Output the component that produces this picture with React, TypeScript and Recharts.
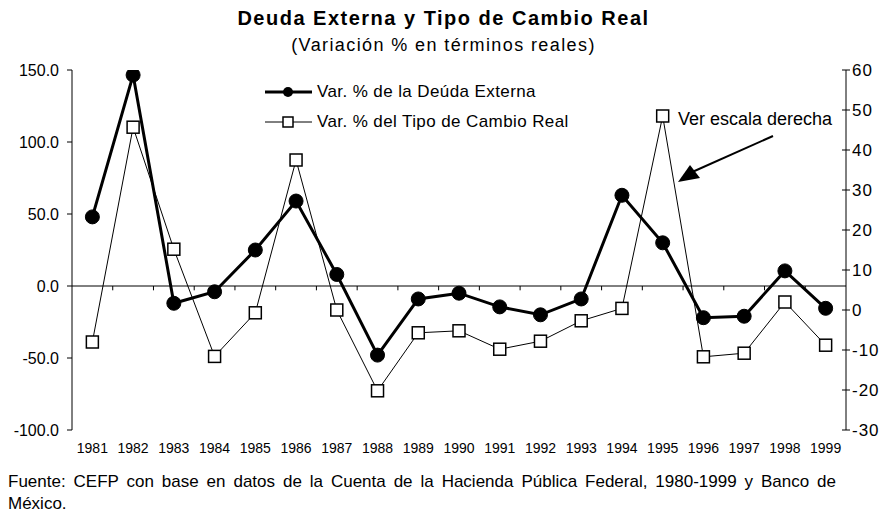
import React from 'react';
import { LineChart, Line, XAxis, YAxis, ReferenceLine } from 'recharts';

const years = ['1981', '1982', '1983', '1984', '1985', '1986', '1987', '1988', '1989', '1990', '1991', '1992', '1993', '1994', '1995', '1996', '1997', '1998', '1999'];
// left scale
const deudaExterna = [48, 146.5, -12, -4, 25, 59, 8, -48, -9, -5, -14.5, -20, -9, 63, 30, -22, -21, 10.5, -15.5];
// right scale
const tipoCambio = [-8, 45.7, 15.2, -11.6, -0.7, 37.5, 0, -20.2, -5.7, -5.2, -9.8, -7.8, -2.7, 0.4, 48.5, -11.7, -10.8, 2, -8.8];
const leftTicks = [-100, -50, 0, 50, 100, 150];
const rightTicks = [-30, -20, -10, 0, 10, 20, 30, 40, 50, 60];

const data = years.map((year, i) => ({
  x: i + 1,
  year,
  deuda: deudaExterna[i],
  tipo: tipoCambio[i],
}));
const boundaries = years.slice(1).map((_, i) => i + 1.5);

const font = '"Liberation Sans", Arial, sans-serif';

const SquareDot = (props: any) => {
  const { cx, cy, index } = props;
  return <rect key={index} x={cx - 6} y={cy - 6} width={12} height={12} fill="#fff" stroke="#000" strokeWidth={1.5} />;
};

const RightTick = (props: any) => {
  const { x, y, payload } = props;
  const ax = x - 6;
  return (
    <g>
      <line x1={ax - 4} x2={ax + 4} y1={y} y2={y} stroke="#000" strokeWidth={1} />
      <text x={x} y={y} dy="0.36em" textAnchor="start" fontSize={17} letterSpacing={1} fontFamily={font} fill="#000">
        {payload.value}
      </text>
    </g>
  );
};

const LegendBox = () => (
  <div style={{ position: 'absolute', left: 265, top: 80, fontFamily: font, fontSize: 17, letterSpacing: 0.4 }}>
    <div style={{ display: 'flex', alignItems: 'center', height: 24 }}>
      <svg width={47} height={20}>
        <line x1={0} x2={47} y1={10} y2={10} stroke="#000" strokeWidth={3} />
        <circle cx={23} cy={10} r={5} fill="#000" />
      </svg>
      <span style={{ marginLeft: 5 }}>Var. % de la Deúda Externa</span>
    </div>
    <div style={{ display: 'flex', alignItems: 'center', height: 24, marginTop: 6 }}>
      <svg width={47} height={20}>
        <line x1={0} x2={47} y1={10} y2={10} stroke="#000" strokeWidth={1} />
        <rect x={18} y={5} width={10} height={10} fill="#fff" stroke="#000" strokeWidth={1.5} />
      </svg>
      <span style={{ marginLeft: 5 }}>Var. % del Tipo de Cambio Real</span>
    </div>
  </div>
);

export default function App() {
  return (
    <div style={{ position: 'absolute', left: 0, top: 0, width: 887, height: 514, background: '#fff', fontFamily: font, color: '#000' }}>
      <div style={{ position: 'absolute', top: 7, width: 887, textAlign: 'center', fontWeight: 'bold', fontSize: 20, letterSpacing: 1.5 }}>
        Deuda Externa y Tipo de Cambio Real
      </div>
      <div style={{ position: 'absolute', top: 35, width: 887, textAlign: 'center', fontSize: 18, letterSpacing: 1.4 }}>
        (Variación % en términos reales)
      </div>
      <LineChart width={887} height={460} data={data} margin={{ top: 70, right: 5, bottom: 0, left: 10 }}>
        <XAxis
          dataKey="x"
          type="number"
          domain={[0.5, 19.5]}
          ticks={data.map((d) => d.x)}
          tickFormatter={(v) => years[v - 1]}
          axisLine={false}
          tickLine={false}
          tickSize={6}
          tickMargin={7}
          height={30}
          interval={0}
          tick={{ fontSize: 14, fontFamily: '"Liberation Sans Narrow", "Liberation Sans", Arial', fill: '#000' }}
        />
        <YAxis
          yAxisId="left"
          domain={[-100, 150]}
          ticks={leftTicks}
          tickFormatter={(v) => v.toFixed(1)}
          width={62}
          tickSize={5}
          tickMargin={8}
          axisLine={{ stroke: '#000' }}
          tickLine={{ stroke: '#000' }}
          tick={{ fontSize: 16, fontFamily: font, fill: '#000' }}
          allowDataOverflow
        />
        <YAxis
          yAxisId="right"
          orientation="right"
          domain={[-30, 60]}
          ticks={rightTicks}
          width={36}
          tickSize={2}
          tickMargin={4}
          axisLine={{ stroke: '#000' }}
          tickLine={false}
          tick={<RightTick />}
          allowDataOverflow
        />
        <ReferenceLine yAxisId="left" y={0} stroke="#000" strokeWidth={1} />
        {boundaries.map((b) => (
          <ReferenceLine
            key={b}
            yAxisId="left"
            segment={[{ x: b, y: 0 }, { x: b, y: -3 }]}
            stroke="#000"
            strokeWidth={1}
          />
        ))}
        <Line
          yAxisId="left"
          dataKey="deuda"
          stroke="#000"
          strokeWidth={3}
          dot={{ r: 7, fill: '#000', stroke: '#000', strokeWidth: 1 }}
          isAnimationActive={false}
        />
        <Line
          yAxisId="right"
          dataKey="tipo"
          stroke="#000"
          strokeWidth={1}
          dot={<SquareDot />}
          isAnimationActive={false}
        />
      </LineChart>
      <LegendBox />
      <div style={{ position: 'absolute', left: 678, top: 109, fontSize: 18 }}>Ver escala derecha</div>
      <svg style={{ position: 'absolute', left: 0, top: 0 }} width={887} height={514}>
        <line x1={773} y1={136} x2={690} y2={173} stroke="#000" strokeWidth={2} />
        <polygon points="678,182 690,165 700,178" fill="#000" />
      </svg>
      <div style={{ position: 'absolute', left: 8, top: 471, width: 828, fontSize: 17, lineHeight: '22px' }}>
        <div style={{ textAlign: 'justify', textAlignLast: 'justify' }}>
          Fuente: CEFP con base en datos de la Cuenta de la Hacienda Pública Federal, 1980-1999 y Banco de
        </div>
        <div>México.</div>
      </div>
    </div>
  );
}
